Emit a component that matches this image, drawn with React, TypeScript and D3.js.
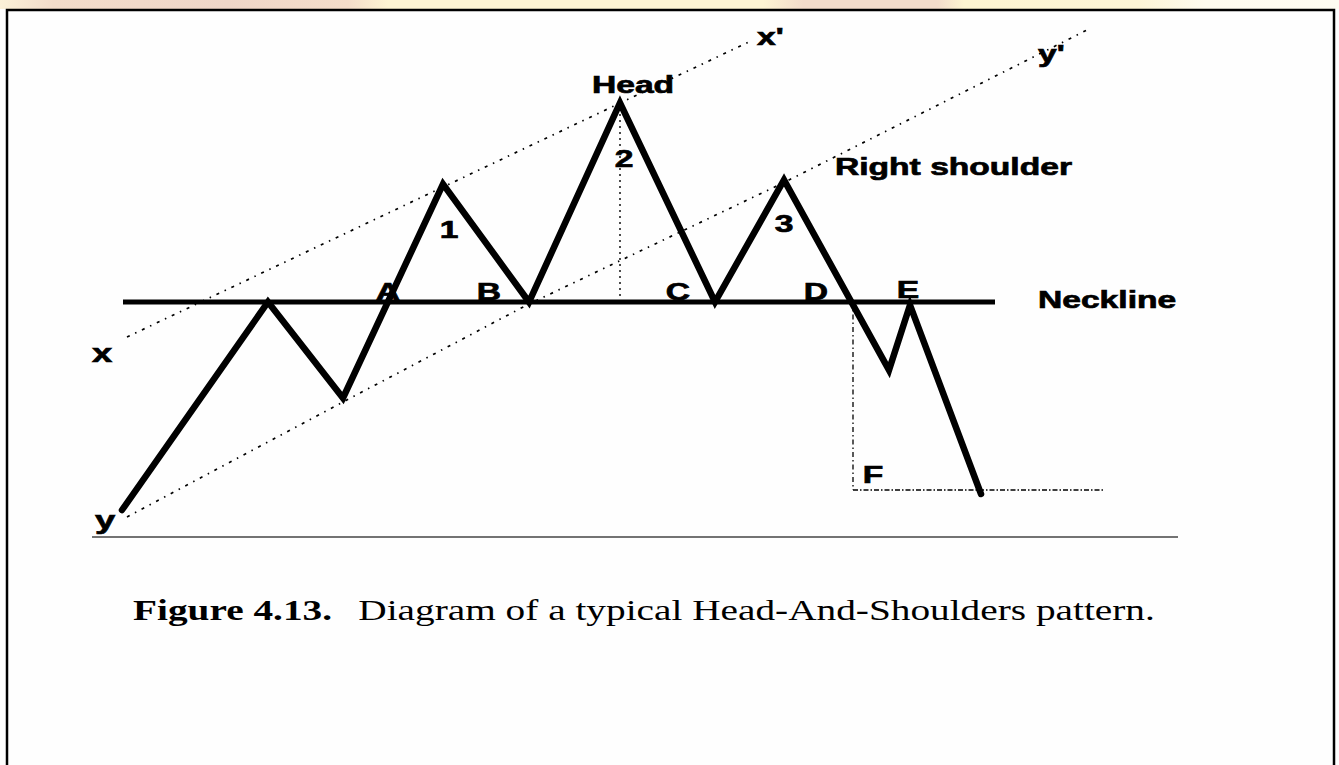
import * as d3 from 'd3'
import { useRef, useEffect } from 'react'

// price path of the pattern (time index, price level)
const priceTime = [22, 168, 243, 343, 429, 520, 615, 684, 789, 810, 881]
const priceLevel = [27, 235, 139, 353, 235, 434, 235, 357, 167, 232, 43]

const necklineTime = [23, 895]
const necklineLevel = 235
const baseTime = [-8, 1078]

// dotted trend lines x-x' and y-y'
const upperTrendTime = [27, 653]
const upperTrendLevel = [200, 497]
const lowerTrendTime = [27, 243, 427, 683, 987]
const lowerTrendLevel = [20, 135, 232, 354, 507]

// measured objective: head height and projection below the neckline
const headMarkTime = 520
const headMarkLevel = [235, 425]
const targetTime = [753, 1003]
const targetLevel = 47

const labelText = ['Head', '1', '2', '3', 'A', 'B', 'C', 'D', 'E', 'F', 'x', 'y', "x'", "y'", 'Right shoulder', 'Neckline']
const labelTime = [492, 349, 524, 684, 288, 389, 578, 716, 808, 773, -8, -5, 657, 938, 735, 938]
const labelLevel = [444, 299, 370, 305, 237, 237, 237, 237, 239, 54, 175, 8, 492, 475, 362, 229]
const labelAnchor = ['start', 'middle', 'middle', 'middle', 'middle', 'middle', 'middle', 'middle', 'middle', 'middle', 'start', 'start', 'start', 'start', 'start', 'start']

const captionBold = 'Figure 4.13.'
const captionText = 'Diagram of a typical Head-And-Shoulders pattern.'

export default function App() {
    const svgRef = useRef(null)
    useEffect(() => {
        const width = 1339
        const height = 765
        const svg = d3.select(svgRef.current)
        svg.selectAll('*').remove()
        svg.attr('width', width).attr('height', height)

        const x = d3.scaleLinear().domain([0, 1000]).range([100, 1100])
        const y = d3.scaleLinear().domain([0, 500]).range([537, 37])

        svg.append('rect').attr('width', width).attr('height', height).attr('fill', '#fefefe')

        // top band
        const defs = svg.append('defs')
        const grad = defs.append('linearGradient').attr('id', 'band')
        const stops = [
            [0, '#fbf1d8'], [0.04, '#f3dcca'], [0.17, '#efd6c8'], [0.26, '#f4ddca'], [0.29, '#fdf4d3'],
            [0.57, '#fdf4d3'], [0.6, '#f3dccb'], [0.7, '#f3dccb'], [0.72, '#fdf4d1'], [0.85, '#fdf5d6'], [0.9, '#fefbee'], [1, '#fefcf2']
        ]
        stops.forEach(s => grad.append('stop').attr('offset', s[0]).attr('stop-color', s[1]))
        svg.append('rect').attr('x', 0).attr('y', 0).attr('width', width).attr('height', 9).attr('fill', 'url(#band)')

        // frame
        svg.append('rect')
            .attr('x', 7).attr('y', 10).attr('width', 1327).attr('height', 780)
            .attr('fill', 'none').attr('stroke', '#000').attr('stroke-width', 2.5)

        const line = d3.line()

        // baseline
        svg.append('path')
            .attr('d', line(baseTime.map(t => [x(t), y(0)])))
            .attr('stroke', '#444').attr('stroke-width', 1.6).attr('fill', 'none')

        // dotted guides
        const dotted = (pts, dash, w) => svg.append('path')
            .attr('d', line(pts))
            .attr('fill', 'none').attr('stroke', '#000')
            .attr('stroke-width', w).attr('stroke-dasharray', dash)

        dotted(upperTrendTime.map((t, i) => [x(t), y(upperTrendLevel[i])]), '3 6 1.5 6', 1.7)
        dotted(lowerTrendTime.map((t, i) => [x(t), y(lowerTrendLevel[i])]), '3 6 1.5 6', 1.7)
        dotted(headMarkLevel.map(p => [x(headMarkTime), y(p)]), '2 4', 1.4)
        dotted([[x(targetTime[0]), y(necklineLevel)], [x(targetTime[0]), y(targetLevel)]], '5 3 1.5 3', 1.3)
        dotted(targetTime.map(t => [x(t), y(targetLevel)]), '5 2 1.5 2', 1.3)

        // neckline
        svg.append('path')
            .attr('d', line(necklineTime.map(t => [x(t), y(necklineLevel)])))
            .attr('stroke', '#000').attr('stroke-width', 5).attr('fill', 'none')

        // price
        svg.append('path')
            .attr('d', line(priceTime.map((t, i) => [x(t), y(priceLevel[i])])))
            .attr('fill', 'none').attr('stroke', '#000').attr('stroke-width', 6.5)
            .attr('stroke-linejoin', 'miter').attr('stroke-linecap', 'round')

        // labels
        labelText.forEach((txt, i) => {
            svg.append('text')
                .attr('transform', `translate(${x(labelTime[i])}, ${y(labelLevel[i])}) scale(1.4, 1)`)
                .attr('text-anchor', labelAnchor[i])
                .attr('font-family', '"Liberation Sans", Arial, sans-serif')
                .attr('font-weight', 'bold')
                .attr('font-size', txt.length === 1 && txt >= 'a' ? 26 : 24)
                .attr('fill', '#000')
                .attr('stroke', '#000').attr('stroke-width', 0.7)
                .text(txt)
        })

        // caption
        const cap = svg.append('g').attr('transform', 'translate(133, 620) scale(1.31, 1)')
        cap.append('text')
            .attr('font-family', '"Liberation Serif", "Times New Roman", serif')
            .attr('font-weight', 'bold').attr('font-size', 30)
            .text(captionBold)
        cap.append('text')
            .attr('x', 172)
            .attr('font-family', '"Liberation Serif", "Times New Roman", serif')
            .attr('font-size', 30)
            .text(captionText)
    }, [])
    return (
        <svg ref={svgRef} style={{ position: 'absolute', left: 0, top: 0, display: 'block' }}></svg>
    )
}
